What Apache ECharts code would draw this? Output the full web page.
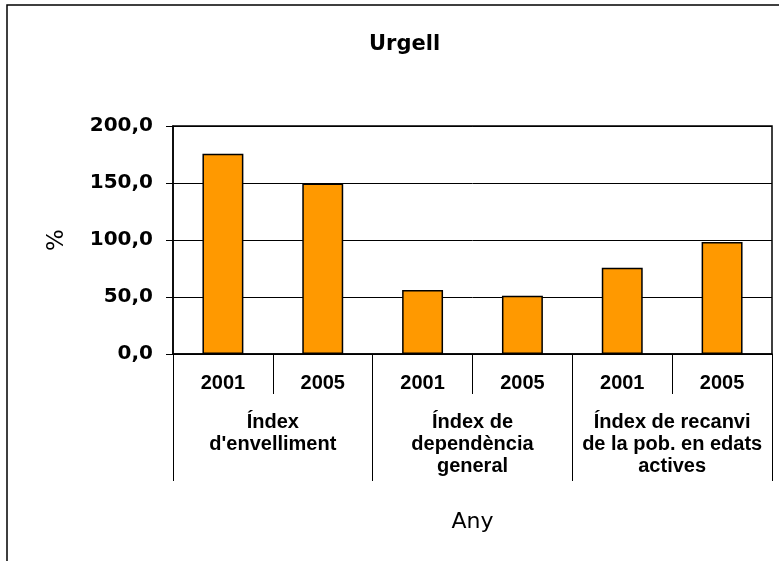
<!DOCTYPE html>
<html>
<head>
<meta charset="utf-8">
<script src="https://cdn.jsdelivr.net/npm/echarts@6/dist/echarts.min.js"></script>
<style>
  html, body { margin: 0; padding: 0; background: #fff; }
  #chart { width: 779px; height: 561px; }
</style>
</head>
<body>
<div id="chart"></div>
<script>
// dades llegides del gràfic
const years = ['2001', '2005', '2001', '2005', '2001', '2005']
const groups = ["Índex\nd'envelliment", 'Índex de\ndependència\ngeneral', 'Índex de recanvi\nde la pob. en edats\nactives']
const values = [175.6, 149.5, 56.1, 51.0, 75.6, 98.2]
const yTicks = { min: 0, max: 200, interval: 50 }

const chart = echarts.init(document.getElementById('chart'))

const option = {
  backgroundColor: '#fff',
  animation: false,
  title: {
    text: 'Urgell',
    left: 364,
    top: 29,
    textStyle: { fontFamily: 'DejaVu Sans', fontSize: 21, fontWeight: 'bold', color: '#000' }
  },
  graphic: [
    {
      // marc exterior
      type: 'rect',
      shape: { x: 7, y: 5, width: 820, height: 620 },
      style: { fill: 'none', stroke: '#000', lineWidth: 1.5 },
      silent: true
    }
  ],
  grid: {
    left: 173,
    right: 7,
    top: 126,
    bottom: 207,
    show: true,
    borderColor: '#000',
    borderWidth: 1.5
  },
  xAxis: [
    {
      type: 'category',
      data: years,
      position: 'bottom',
      axisLine: { lineStyle: { color: '#000', width: 1.5 } },
      axisTick: { show: true, interval: 0, length: 40, lineStyle: { color: '#000', width: 1 } },
      axisLabel: {
        interval: 0,
        margin: 19,
        fontFamily: 'Liberation Sans',
        fontSize: 20,
        fontWeight: 'bold',
        color: '#000'
      }
    },
    {
      type: 'category',
      data: groups,
      position: 'bottom',
      name: 'Any',
      nameLocation: 'middle',
      nameGap: 157,
      nameTextStyle: { fontFamily: 'DejaVu Sans', fontSize: 22, color: '#000' },
      axisLine: { show: false },
      axisTick: { show: true, interval: 0, length: 127, lineStyle: { color: '#000', width: 1 } },
      axisLabel: {
        interval: 0,
        margin: 57,
        lineHeight: 22,
        fontFamily: 'Liberation Sans',
        fontSize: 20,
        fontWeight: 'bold',
        color: '#000'
      }
    }
  ],
  yAxis: {
    type: 'value',
    min: yTicks.min,
    max: yTicks.max,
    interval: yTicks.interval,
    name: '%',
    nameLocation: 'middle',
    nameRotate: 90,
    nameGap: 104,
    nameTextStyle: { fontFamily: 'DejaVu Sans', fontSize: 23, color: '#000' },
    axisLine: { show: true, lineStyle: { color: '#000', width: 1.5 } },
    axisTick: { show: true, length: 7, lineStyle: { color: '#000' } },
    splitLine: { lineStyle: { color: '#000', width: 1 } },
    axisLabel: {
      margin: 20,
      fontFamily: 'DejaVu Sans',
      fontSize: 20,
      fontWeight: 'bold',
      color: '#000',
      formatter: v => v.toFixed(1).replace('.', ',')
    }
  },
  series: [
    {
      type: 'bar',
      xAxisIndex: 0,
      data: values,
      barWidth: '41%',
      itemStyle: { color: '#FF9900', borderColor: '#000', borderWidth: 1.5 }
    }
  ]
}

chart.setOption(option)
</script>
</body>
</html>
